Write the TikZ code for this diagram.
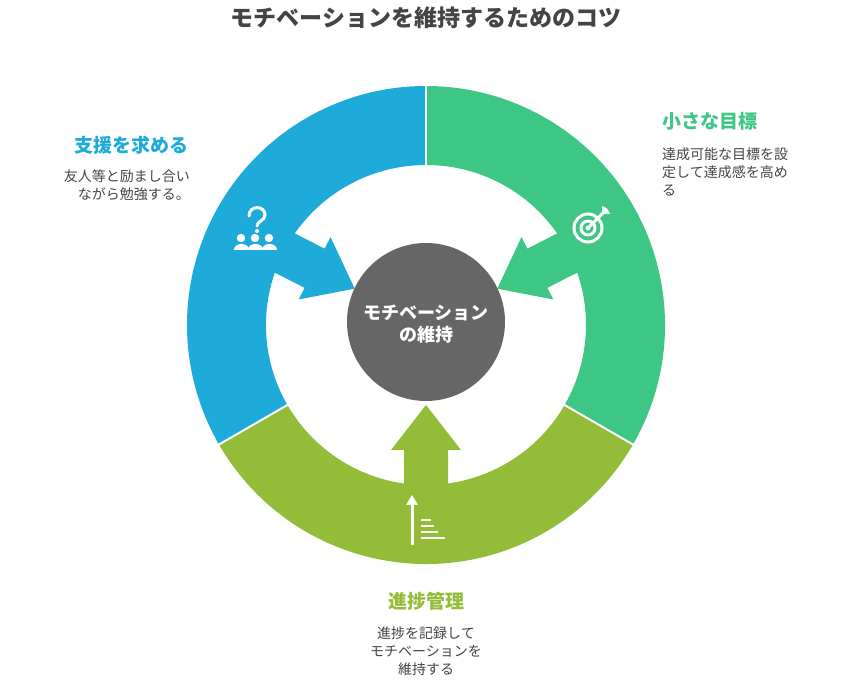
\documentclass[tikz,border=0pt]{standalone}
\usepackage{fontspec}
\setmainfont{Noto Sans CJK JP}
\definecolor{cg}{HTML}{3EC684}
\definecolor{cb}{HTML}{1EABDA}
\definecolor{co}{HTML}{93BC38}
\definecolor{cc}{HTML}{666666}
\definecolor{tx}{HTML}{444444}
\begin{document}
\begin{tikzpicture}[x=1pt,y=-1pt,
 ttl/.style={font=\bfseries\fontsize{19}{22}\selectfont,inner sep=0pt},
 dsc/.style={font=\fontsize{14}{18}\selectfont,text=tx,inner sep=0pt},
 ic/.style={white,line width=3pt}]
\useasboundingbox (0,0) rectangle (852,684);
\begin{scope}[shift={(426,325)},y=1pt]
\def\seg#1#2#3{\fill[#1] (#2:239) arc[start angle=#2,end angle=#3,radius=239] -- (#3:160) arc[start angle=#3,end angle=#2,radius=160] -- cycle;}
\seg{cg}{-30}{90}
\seg{cb}{90}{210}
\seg{co}{210}{330}
\foreach \a in {90,210,330} \draw[white,line width=2pt] (\a:157) -- (\a:242);
\def\arr#1#2{\fill[#1,rotate=#2] (162,-22) -- (125,-22) -- (125,-35) -- (80,0) -- (125,35) -- (125,22) -- (162,22) -- cycle;}
\arr{cg}{27}
\arr{cb}{153}
\arr{co}{270}
\fill[cc] (0,3) circle (79);
\end{scope}
\node[font=\bfseries\fontsize{18}{22}\selectfont,white,align=center] (ctr) at (426,324) {モチベーション\\の維持};
\node[font=\bfseries\fontsize{23}{26}\selectfont,text=tx] (title) at (426,18) {モチベーションを維持するためのコツ};
\node[ttl,text=cg,anchor=west] (g) at (662,121) {小さな目標};
\node[dsc,anchor=north west,align=left] (gd) at (662,148) {達成可能な目標を設\\定して達成感を高め\\る};
\node[ttl,text=cb,anchor=east] (b) at (189,145) {支援を求める};
\node[dsc,anchor=north east,align=right] (bd) at (190,169) {友人等と励まし合い\\ながら勉強する。};
\node[ttl,text=co] (o) at (426,601) {進捗管理};
\node[dsc,align=center,anchor=north] (od) at (426,627) {進捗を記録して\\モチベーションを\\維持する};
% target icon
\begin{scope}[shift={(588,228)}]
\draw[ic] (0,0) circle (14);
\draw[ic] (0,0) circle (7);
\fill[white] (0,0) circle (2.5);
\draw[ic] (0,0) -- (15,-15);
\fill[white] (14,-14) -- (14,-22) -- (18,-20) -- (20,-18) -- (22,-14) -- cycle;
\end{scope}
% people icon
\begin{scope}[shift={(255,232)}]
\draw[ic,line cap=round] (-6,-16) .. controls (-6,-27) and (10,-27) .. (10,-17) .. controls (10,-11) and (2,-11) .. (2,-6);
\fill[white] (2,-1) circle (2);
\foreach \x in {-14,0,14}{\fill[white] (\x,6) circle (4.2);
 \fill[white] (\x-7.5,18) .. controls (\x-7.5,10) and (\x+7.5,10) .. (\x+7.5,18) -- cycle;}
\end{scope}
% progress icon
\begin{scope}[shift={(425,522)}]
\draw[ic] (-13,23) -- (-13,-20);
\fill[white] (-13,-27) -- (-19,-17) -- (-7,-17) -- cycle;
\foreach \y/\w in {-2/10,4/13,10/17,16/24} \draw[white,line width=2.5pt] (-4,\y) -- (-4+\w,\y);
\end{scope}
\end{tikzpicture}
\end{document}
